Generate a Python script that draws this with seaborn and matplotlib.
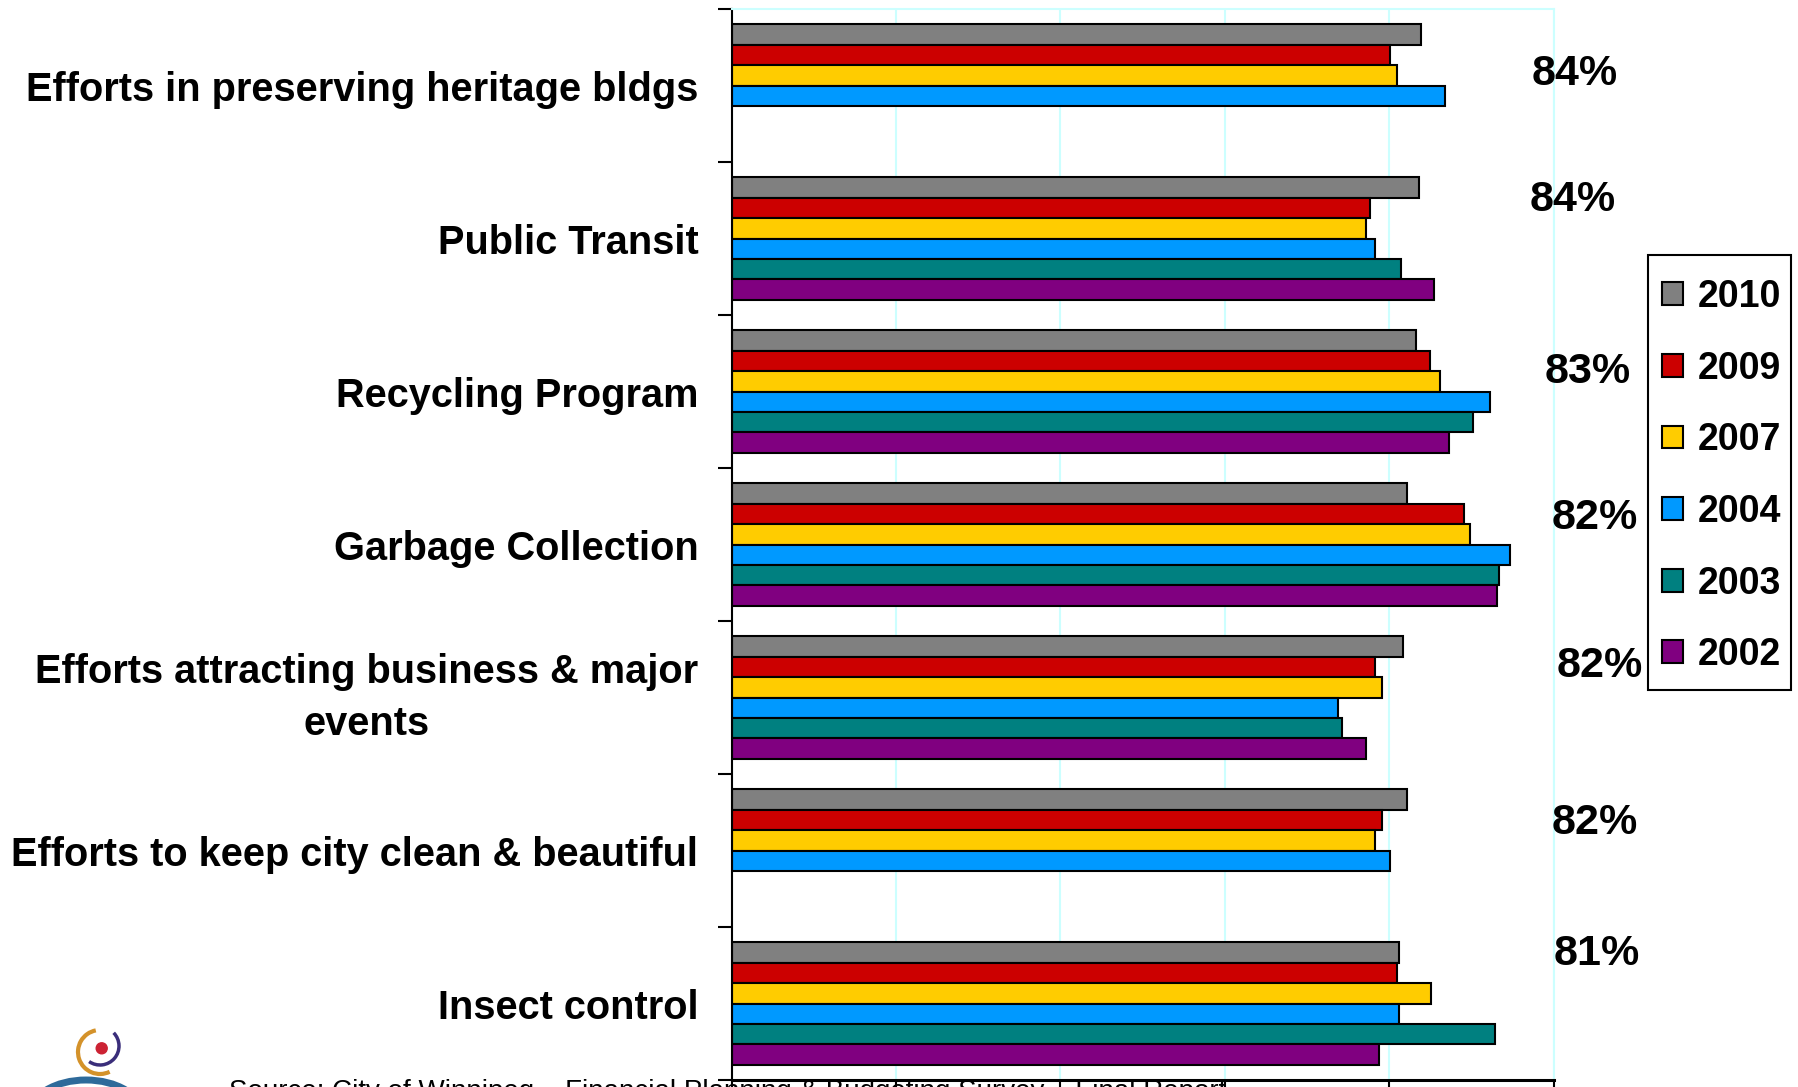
import numpy as np
import pandas as pd
import matplotlib
matplotlib.use("Agg")
import matplotlib.pyplot as plt
from matplotlib.patches import Patch, Arc, Circle, Rectangle
import seaborn as sns

# ---------------- data ----------------
categories = [
    "Efforts in preserving heritage bldgs",
    "Public Transit",
    "Recycling Program",
    "Garbage Collection",
    "Efforts attracting business & major\nevents",
    "Efforts to keep city clean & beautiful",
    "Insect control",
]
years = ["2010", "2009", "2007", "2004", "2003", "2002"]
v2010 = [83.8, 83.6, 83.3, 82.2, 81.7, 82.2, 81.2]
v2009 = [80.1, 77.7, 84.9, 89.1, 78.3, 79.1, 80.9]
v2007 = [80.9, 77.2, 86.2, 89.8, 79.1, 78.3, 85.1]
v2004 = [86.8, 78.3, 92.3, 94.7, 73.7, 80.1, 81.2]
v2003 = [np.nan, 81.4, 90.2, 93.3, 74.2, np.nan, 92.9]
v2002 = [np.nan, 85.4, 87.3, 93.1, 77.2, np.nan, 78.8]
pct_labels = ["84%", "84%", "83%", "82%", "82%", "82%", "81%"]
source_text = "Source: City of Winnipeg \u2013 Financial Planning & Budgeting Survey \u2013 Final Report"

# ---------------- layout / style ----------------
colors = ["#808080", "#CC0000", "#FFCC00", "#0099FF", "#008080", "#800080"]
label_x = [97.35, 97.1, 98.9, 99.7, 100.3, 99.7, 100.0]
label_dy = [-0.005, -0.18, -0.056, -0.104, -0.137, -0.109, -0.255]

series = [v2010, v2009, v2007, v2004, v2003, v2002]
rows = []
for yr, vals in zip(years, series):
    for cat, v in zip(categories, vals):
        rows.append({"Category": cat, "Year": yr, "Value": v})
df = pd.DataFrame(rows).dropna()

sns.set_style("white")
plt.rcParams["font.family"] = ["Liberation Sans", "DejaVu Sans"]
plt.rcParams["text.color"] = "black"
plt.rcParams["axes.labelcolor"] = "black"
plt.rcParams["xtick.color"] = "black"
plt.rcParams["ytick.color"] = "black"

W, H = 1798, 1087
fig = plt.figure(figsize=(W / 100, H / 100), dpi=100)
fig.patch.set_facecolor("white")
ax = fig.add_axes([731.6 / W, (H - 1080) / H, (1553.8 - 731.6) / W, (1080 - 9.2) / H])

sns.barplot(
    data=df, y="Category", x="Value", hue="Year",
    order=categories, hue_order=years, palette=colors,
    orient="h", width=0.8, saturation=1, errorbar=None,
    edgecolor="black", linewidth=1.5, legend=False, ax=ax,
)

ax.set_xlim(0, 100)
ax.set_ylim(6.5, -0.5)
ax.set_xlabel("")
ax.set_ylabel("")
ax.set_xticks([0, 20, 40, 60, 80, 100])
ax.grid(axis="x", color="#CCFFFF", linewidth=1.5)
ax.grid(axis="y", visible=False)
ax.set_axisbelow(True)

ax.set_yticks(range(len(categories)))
ax.set_yticklabels(categories)
ax.set_yticks(np.arange(-0.5, len(categories), 1.0), minor=True)
ax.tick_params(axis="y", which="major", length=0, pad=24, labelsize=28.6,
               labelcolor="black")
ax.tick_params(axis="y", which="minor", left=True, length=10, width=1.5,
               direction="out", color="black")
ax.tick_params(axis="x", which="major", bottom=True, length=20, width=1.5,
               direction="out", color="black", labelbottom=False)
for lab in ax.get_yticklabels():
    lab.set_fontweight("bold")
    if "\n" in lab.get_text():
        lab.set_multialignment("center")
        lab.set_linespacing(1.47)
        lab.set_verticalalignment("center")

for side in ("left", "bottom"):
    ax.spines[side].set_color("black")
ax.spines["left"].set_linewidth(1.5)
ax.spines["bottom"].set_linewidth(2.2)
for side in ("top", "right"):
    ax.spines[side].set_color("#CCFFFF")
    ax.spines[side].set_linewidth(1.5)
    ax.spines[side].set_visible(True)

for i, (txt, x, dy) in enumerate(zip(pct_labels, label_x, label_dy)):
    ax.text(x, i + dy, txt, ha="left", va="baseline", fontsize=31,
            fontweight="bold", color="black", clip_on=False)

# legend: frame drawn as a figure rectangle, entries from a frameless legend
fig.add_artist(Rectangle((1648 / W, 1 - 690 / H), (1791 - 1648) / W, (690 - 254.6) / H,
                         transform=fig.transFigure, facecolor="white",
                         edgecolor="black", linewidth=1.5, zorder=2))
handles = [Patch(facecolor=c, edgecolor="black", linewidth=1.5) for c in colors]
leg = fig.legend(
    handles, years, loc="upper left",
    bbox_to_anchor=(1662 / W, 1 - 279 / H), bbox_transform=fig.transFigure,
    prop={"size": 27, "weight": "bold"}, frameon=False, borderaxespad=0,
    borderpad=0, labelspacing=0.95, handlelength=0.56, handleheight=0.56,
    handletextpad=0.4,
)
leg.set_zorder(3)
for t in leg.get_texts():
    t.set_color("black")

# logo (partially visible at bottom-left)
lax = fig.add_axes([20 / W, 0, 150 / W, 77 / H])
lax.set_xlim(0, 150)
lax.set_ylim(77, 0)
lax.set_aspect("auto")
lax.axis("off")
lax.add_patch(Arc((66, 104), 112, 68, theta1=180, theta2=360, color="#2E6A9A", lw=5))
lax.add_patch(Arc((80, 42), 44, 44, theta1=64, theta2=259, color="#D4922A", lw=3))
lax.add_patch(Arc((80, 36), 38, 38, theta1=-44, theta2=125, color="#3A2E7A", lw=2.5))
lax.add_patch(Circle((81.7, 38.3), 5.5, color="#CC2233"))

fig.text(229 / W, 1 - 1079 / H, source_text, ha="left", va="top", fontsize=20,
         color="black")

fig.savefig("out.png", dpi=100, facecolor="white")
